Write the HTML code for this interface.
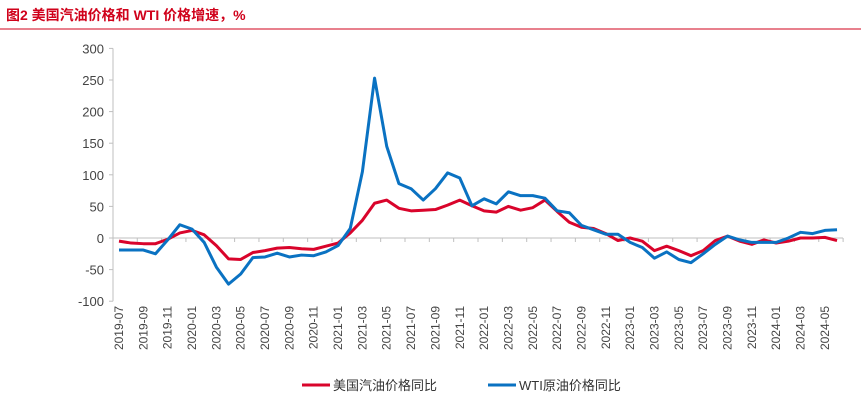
<!DOCTYPE html>
<html><head><meta charset="utf-8"><style>
body{margin:0;background:#fff;font-family:"Liberation Sans","Noto Sans CJK SC",sans-serif;}
</style></head><body>
<svg width="861" height="403" xmlns="http://www.w3.org/2000/svg" style="display:block">
<text x="6" y="20" font-size="14" font-weight="bold" fill="#d0021b" font-family="Liberation Sans, Noto Sans CJK SC, sans-serif">图2  美国汽油价格和 WTI 价格增速，%</text>
<line x1="0" y1="29" x2="861" y2="29" stroke="#d0021b" stroke-width="1"/>
<g id="axes"></g>
<g id="series"></g>
<g>
<line x1="302" y1="385" x2="330" y2="385" stroke="#d9042b" stroke-width="3"/>
<text x="333" y="390" font-size="13" fill="#333">美国汽油价格同比</text>
<line x1="488" y1="385" x2="516" y2="385" stroke="#0a72c2" stroke-width="3"/>
<text x="519" y="390" font-size="13" fill="#333">WTI原油价格同比</text>
</g>
</svg>
<script>
const months=["2019-07","2019-08","2019-09","2019-10","2019-11","2019-12","2020-01","2020-02","2020-03","2020-04","2020-05","2020-06","2020-07","2020-08","2020-09","2020-10","2020-11","2020-12","2021-01","2021-02","2021-03","2021-04","2021-05","2021-06","2021-07","2021-08","2021-09","2021-10","2021-11","2021-12","2022-01","2022-02","2022-03","2022-04","2022-05","2022-06","2022-07","2022-08","2022-09","2022-10","2022-11","2022-12","2023-01","2023-02","2023-03","2023-04","2023-05","2023-06","2023-07","2023-08","2023-09","2023-10","2023-11","2023-12","2024-01","2024-02","2024-03","2024-04","2024-05","2024-06"];
const gasoline=[-5,-8,-9,-9,-2,8,12,5,-12,-33,-34,-23,-20,-16,-15,-17,-18,-13,-8,8,28,55,60,47,43,44,45,52,60,51,43,41,50,44,48,60,42,25,17,15,7,-4,0,-5,-20,-13,-20,-28,-20,-4,3,-5,-10,-3,-8,-5,0,0,1,-4];
const wti=[-19,-19,-19,-25,-3,21,14,-7,-46,-73,-57,-31,-30,-24,-30,-27,-28,-22,-12,15,105,253,145,86,78,60,78,103,95,51,62,54,73,67,67,63,43,40,20,13,6,6,-7,-15,-32,-22,-34,-39,-25,-10,3,-3,-7,-7,-7,0,9,7,12,13];
const yTicks=[300,250,200,150,100,50,0,-50,-100];
const NS="http://www.w3.org/2000/svg";
const x0=119,dx=12.17,axisX=113,axisRight=843;
const X=i=>x0+i*dx;
const Y=v=>238-v*0.632;
function mk(tag,attrs,parent){const e=document.createElementNS(NS,tag);for(const k in attrs)e.setAttribute(k,attrs[k]);parent.appendChild(e);return e;}
const ax=document.getElementById('axes');
const yl=mk('line',{x1:axisX,y1:Y(300),x2:axisX,y2:Y(-100),stroke:'#bfbfbf'},ax);


yTicks.forEach(v=>{
 const t=mk('line',{x1:axisX-4,y1:Y(v),x2:axisX,y2:Y(v),stroke:'#bfbfbf'},ax);
 
 
 const l=mk('text',{x:axisX-9,y:Y(v)+5,'font-size':13,fill:'#444','text-anchor':'end'},ax);
 l.textContent=v;
 
 
});
const xl=mk('line',{x1:axisX,y1:Y(0),x2:axisRight,y2:Y(0),stroke:'#bfbfbf'},ax);


months.forEach((m,i)=>{
 if(i%2===0){
  const t=mk('line',{x1:X(i)+dx*1.5,y1:Y(0),x2:X(i)+dx*1.5,y2:Y(0)+4,stroke:'#bfbfbf'},ax);
  
  
  const l=mk('text',{x:0,y:0,'font-size':12,fill:'#444','text-anchor':'end',transform:`translate(${X(i)+4},306) rotate(-90)`},ax);
  l.textContent=m;
  
  
 }
});
const sg=document.getElementById('series');
function line(data,color,name){
 const p=mk('polyline',{points:data.map((v,i)=>X(i)+','+Y(v)).join(' '),fill:'none',stroke:color,'stroke-width':3,'stroke-linejoin':'round'},sg);
 
 
}
line(gasoline,'#d9042b','gasoline-line');
line(wti,'#0a72c2','wti-line');
</script>
</body></html>
